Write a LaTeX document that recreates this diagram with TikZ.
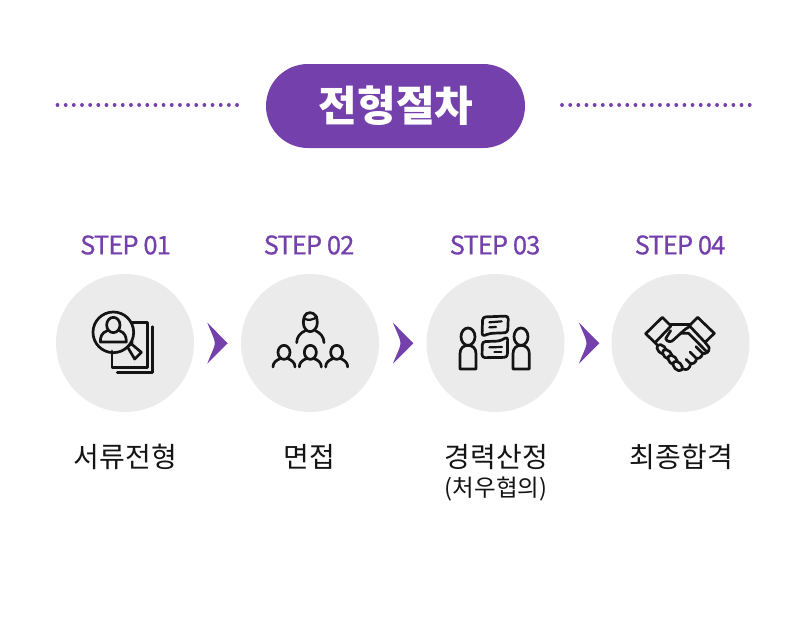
\documentclass[tikz,border=0pt]{standalone}
\usepackage{fontspec}
\setmainfont{Noto Sans CJK KR}
\newfontfamily\stepfont[LetterSpace=-3.5,FakeBold=0.6]{Noto Sans CJK KR}
\definecolor{brandpurple}{HTML}{7440AB}
\definecolor{discgray}{HTML}{EBEBEB}
\definecolor{inkline}{HTML}{141414}
\tikzset{
  pill/.style={fill=brandpurple,rounded corners=42pt,minimum width=259pt,minimum height=84pt,inner sep=0pt,text=white,font=\fontsize{42}{42}\selectfont\bfseries},
  dotrule/.style={brandpurple,line width=3.8pt,line cap=round,dash pattern=on 0.01pt off 8.15pt},
  disc/.style={circle,fill=discgray,minimum size=138pt,inner sep=0pt},
  steplabel/.style={text=brandpurple,font=\stepfont\fontsize{25.5}{25.5}\selectfont,inner sep=0pt},
  namelabel/.style={text=inkline,font=\fontsize{28}{28}\selectfont,inner sep=0pt},
  sublabel/.style={text=inkline,font=\fontsize{23.5}{23.5}\selectfont,inner sep=0pt},
  chev/.style={fill=brandpurple,draw=none},
  icon/.style={draw=inkline,line width=2.7pt,line join=round,line cap=round},
  iconthin/.style={icon,line width=2.2pt},
  zoomed/.style={x=0.33333pt,y=-0.33333pt}
}
\begin{document}
\begin{tikzpicture}[x=1pt,y=-1pt]
\useasboundingbox (0,0) rectangle (800,629);
% header
\node[pill] (title) at (395.5,106) {\hspace{1pt}전형절차};
\coordinate (la) at (57.5,105); \coordinate (lb) at (238,105);
\coordinate (ra) at (562,105); \coordinate (rb) at (750,105);
\draw[dotrule] (la) -- (lb);
\draw[dotrule] (ra) -- (rb);
% step labels
\node[steplabel] (s1) at (125.5,245) {STEP 01};
\node[steplabel] (s2) at (309,245) {STEP 02};
\node[steplabel] (s3) at (495,245) {STEP 03};
\node[steplabel] (s4) at (680,245) {STEP 04};
% discs
\node[disc] (d1) at (125,343) {};
\node[disc] (d2) at (310,343) {};
\node[disc] (d3) at (495.5,343) {};
\node[disc] (d4) at (680.5,343) {};
% chevrons
\foreach \cx in {207.3,393,579}{
  \fill[chev] (\cx,322.7) -- (\cx+20.4,343.3) -- (\cx,363.5) .. controls (\cx+4.5,352) and (\cx+7.5,347) .. (\cx+7.5,343.3) .. controls (\cx+7.5,339) and (\cx+4.5,334) .. cycle;
}
% names
\node[namelabel] (n1) at (125.5,457) {서류전형};
\node[namelabel] (n2) at (309.5,457) {면접};
\node[namelabel] (n3) at (496.5,457) {경력산정};
\node[namelabel] (n4) at (681.5,457) {최종합격};
\node[sublabel] (n3b) at (496,489) {(처우협의)};
% icon 1
\begin{scope}[shift={(60,280)},zoomed]
  \draw[icon] (218,127) -- (262,127) -- (262,263) -- (156,263) -- (156,213);
  \draw[icon] (277,140) -- (277,278) -- (172,278);
  \draw[icon] (160,157) circle[radius=61];
  \draw[icon] (160,135) ellipse[x radius=20,y radius=23];
  \draw[icon] (142,152) .. controls (125,158) and (121,170) .. (121,186) -- (199,186) .. controls (199,170) and (195,158) .. (178,152);
  \draw[icon] (203,201) -- (217,187);
  \draw[icon] (205,205) -- (224,237) -- (244,217) -- (212,190);
\end{scope}
% icon 2
\begin{scope}[shift={(250,290)},zoomed]
  \draw[icon] (180,68) .. controls (165,68) and (160,82) .. (160,98) .. controls (160,113) and (170,125) .. (180,125) .. controls (192,125) and (202,113) .. (202,98) .. controls (202,82) and (195,68) .. (180,68);
  \draw[iconthin] (162,86) .. controls (175,92) and (190,90) .. (201,80);
  \draw[icon] (140,158) .. controls (140,140) and (152,128) .. (166,122);
  \draw[icon] (222,158) .. controls (222,140) and (210,128) .. (196,122);
  \foreach \px in {102,181,260}{
    \draw[icon] (\px,187) ellipse[x radius=18,y radius=21];
    \draw[icon] (\px-33,231) .. controls (\px-33,218) and (\px-24,211) .. (\px-12,206);
    \draw[icon] (\px+33,231) .. controls (\px+33,218) and (\px+24,211) .. (\px+12,206);
  }
\end{scope}
% icon 3
\begin{scope}[shift={(440,295)},zoomed]
  \draw[icon] (84,125) ellipse[x radius=21,y radius=26];
  \draw[icon] (243,125) ellipse[x radius=21,y radius=26];
  \draw[icon] (60,222) -- (60,176) .. controls (60,160) and (70,151) .. (84,151) .. controls (98,151) and (108,160) .. (108,176) -- (108,222) -- cycle;
  \draw[icon] (219,222) -- (219,176) .. controls (219,160) and (229,151) .. (243,151) .. controls (257,151) and (268,160) .. (268,176) -- (268,222) -- cycle;
  \draw[icon,rounded corners=3pt] (126,124) -- (128,66) -- (205,63) -- (203,113) -- (150,115) -- cycle;
  \draw[iconthin] (148,82) -- (185,79);
  \draw[iconthin] (148,97) -- (168,96);
  \draw[icon,rounded corners=3pt] (203,125) -- (202,187) -- (126,188) -- (127,140) -- (180,138) -- cycle;
  \draw[iconthin] (148,157) -- (186,156);
  \draw[iconthin] (163,171) -- (184,171);
\end{scope}
% icon 4
\begin{scope}[shift={(630,300)},zoomed]
  \draw[icon] (97,52) -- (47,101) -- (75,128) -- (123,78) -- cycle;
  \draw[icon] (203,52) -- (253,100) -- (225,127) -- (178,77) -- cycle;
  \draw[icon] (119,73) -- (182,73);
  \draw[icon] (122,92) -- (107,116) .. controls (112,127) and (124,127) .. (130,120) -- (152,100) -- (176,100);
  \draw[icon] (152,100) .. controls (165,88) and (170,84) .. (178,80);
  \draw[icon] (176,100) -- (232,157);
  \draw[icon] (225,127) -- (237,142) .. controls (238,150) and (236,155) .. (232,157) .. controls (226,162) and (220,162) .. (216,158) -- (198,140);
  \draw[icon] (218,160) .. controls (216,172) and (205,178) .. (198,174) -- (180,156);
  \draw[icon] (200,175) .. controls (198,188) and (188,194) .. (180,190) -- (168,178);
  \draw[icon] (182,191) .. controls (180,205) and (170,214) .. (158,206);
  \draw[icon] (75,128) -- (84,137);
  \foreach \fx/\fy in {95/148,112/163,128/180,143/198}{
    \draw[icon,fill=discgray,rotate around={45:(\fx,\fy)}] (\fx,\fy) ellipse[x radius=11,y radius=17];
  }
\end{scope}
\end{tikzpicture}
\end{document}
